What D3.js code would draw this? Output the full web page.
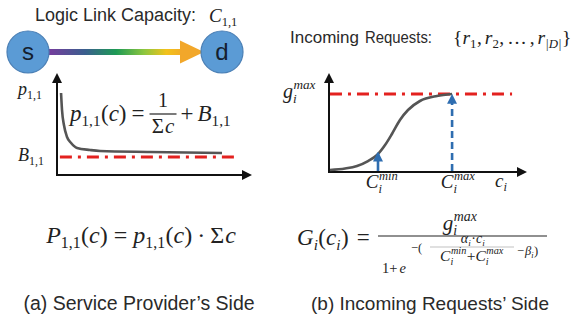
<!DOCTYPE html>
<html><head><meta charset="utf-8">
<script src="https://cdn.jsdelivr.net/npm/d3@7"></script>
<style>body{margin:0;background:#fff} svg{display:block}</style>
</head><body><svg id="c" width="571" height="325"></svg>
<script>
// ---------- data ----------
const leftCapX = [0.21, 0.26, 0.36, 0.52, 0.73, 1.04, 1.71, 2.23, 4.82, 8.55];
const leftCapY = [8.2, 6.5, 5.0, 3.8, 3.2, 2.7, 2.5, 2.4, 2.3, 2.2];
const baseB = 1.8;
const baseLineX = [0.15, 9.3];
const sigX = [0.05, 0.82, 1.43, 1.99, 2.45, 2.86, 3.21, 3.62, 4.03, 4.64, 5.51, 6.28];
const sigY = [0.21, 0.36, 0.62, 1.13, 1.75, 2.78, 3.92, 5.36, 6.39, 7.32, 7.84, 8.04];
const gMax = 8.04;
const gLineX = [0.05, 9.34];
const markX = [2.5, 6.28];      // C_i^min, C_i^max
const markY = [1.9, 7.85];
const gradColors = ["#7a3a9e", "#3a5f8e", "#1d9a55", "#8cc63f", "#f2c21b", "#f2a72a"];
const gradOffsets = [0, 0.28, 0.5, 0.7, 0.86, 1];
const captions = ["(a) Service Provider\u2019s Side", "(b) Incoming Requests\u2019 Side"];

// ---------- setup ----------
const svg = d3.select("#c");
const defs = svg.append("defs");
function marker(id, color) {
  defs.append("marker").attr("id", id).attr("viewBox", "0 0 10 10").attr("refX", 8).attr("refY", 5)
    .attr("markerWidth", 10).attr("markerHeight", 10).attr("markerUnits", "userSpaceOnUse").attr("orient", "auto")
    .append("path").attr("d", "M0,0 L10,5 L0,10 Z").attr("fill", color);
}
marker("arrK", "#111");
marker("arrB", "#2e6db0");
const lg = defs.append("linearGradient").attr("id", "grad").attr("x1", 0).attr("x2", 1).attr("y1", 0).attr("y2", 0);
gradOffsets.forEach((o, i) => lg.append("stop").attr("offset", o).attr("stop-color", gradColors[i]));

const MATH = "Liberation Serif";
function mrow(parent, x, y, items, size, align) {
  const g = parent.append("g").attr("font-family", MATH).attr("fill", "#222");
  let cx = 0;
  const add = (t, dx, dy, fs, it) => {
    const e = g.append("text").attr("x", dx).attr("y", dy).attr("font-size", fs)
      .attr("font-style", it ? "italic" : "normal").text(t);
    return e.node().getComputedTextLength();
  };
  items.forEach(o => {
    if (o.t !== undefined) cx += add(o.t, cx, 0, size, o.i);
    else if (o.p !== undefined && o.b !== undefined) {
      const ss = size * 0.66;
      const e = g.append("text").attr("font-size", ss).attr("font-style", "italic");
      const a = e.append("tspan").attr("x", cx + 0.5).attr("y", -size * 0.44).text(o.p);
      const b = e.append("tspan").attr("x", cx).attr("y", size * 0.24).text(o.b);
      cx += Math.max(a.node().getComputedTextLength() + 0.5, b.node().getComputedTextLength()) + 0.5;
    } else if (o.b !== undefined) {
      cx += add(o.b, cx, size * 0.22, size * 0.66, o.bi) + 0.5;
    }
    if (o.g) cx += o.g;
  });
  const ox = align === "middle" ? x - cx / 2 : align === "end" ? x - cx : x;
  g.attr("transform", `translate(${ox},${y})`);
  return { g, w: cx, x0: ox };
}
function sans(x, y, t, size, anchor) {
  return svg.append("text").attr("x", x).attr("y", y).attr("font-family", "Liberation Sans")
    .attr("font-size", size).attr("fill", "#2a2a2a").attr("text-anchor", anchor || "start").text(t);
}

// ---------- top-left: link ----------
sans(35, 21, "Logic Link Capacity:", 18);
mrow(svg, 209, 22, [{ t: "C", i: 1 }, { b: "1,1" }], 19);

const linkY = 52;
svg.append("rect").attr("x", 46).attr("y", linkY - 3).attr("width", 140).attr("height", 6).attr("fill", "url(#grad)");
svg.append("path").attr("d", `M180,${linkY - 11.5} L204,${linkY} L180,${linkY + 11.5} Z`).attr("fill", "#f2a72a");
[[28, "s"], [222, "d"]].forEach(([cx, t]) => {
  svg.append("circle").attr("cx", cx).attr("cy", linkY).attr("r", 21).attr("fill", "#5b9bd5").attr("stroke", "#4a7fb5").attr("stroke-width", 1.2);
  svg.append("text").attr("x", cx).attr("y", linkY + 8).attr("text-anchor", "middle").attr("font-family", "Liberation Sans")
    .attr("font-size", 24).attr("fill", "#14202e").text(t);
});

// ---------- left chart ----------
const lx = d3.scaleLinear([0, 10], [57, 250]);
const ly = d3.scaleLinear([0, 10], [175, 75]);
svg.append("line").attr("x1", lx(0)).attr("y1", ly(0)).attr("x2", lx(0)).attr("y2", ly(10))
  .attr("stroke", "#111").attr("stroke-width", 2).attr("marker-end", "url(#arrK)");
svg.append("line").attr("x1", lx(0) - 1).attr("y1", ly(0)).attr("x2", lx(10)).attr("y2", ly(0))
  .attr("stroke", "#111").attr("stroke-width", 2).attr("marker-end", "url(#arrK)");
svg.append("line").attr("x1", lx(baseLineX[0])).attr("x2", lx(baseLineX[1])).attr("y1", ly(baseB)).attr("y2", ly(baseB))
  .attr("stroke", "#e3211f").attr("stroke-width", 3).attr("stroke-dasharray", "12,6,3,6");
const leftPts = leftCapX.map((v, i) => [v, leftCapY[i]]);
svg.append("path").attr("d", d3.line().x(d => lx(d[0])).y(d => ly(d[1])).curve(d3.curveMonotoneX)(leftPts))
  .attr("fill", "none").attr("stroke", "#555").attr("stroke-width", 2.6);
mrow(svg, 18, 95, [{ t: "p", i: 1 }, { b: "1,1" }], 18);
mrow(svg, 18, 161, [{ t: "B", i: 1 }, { b: "1,1" }], 18);

// formula inside chart
const f1 = mrow(svg, 70, 121, [{ t: "p", i: 1 }, { b: "1,1" }, { t: "(" }, { t: "c", i: 1 }, { t: ")", g: 5 }, { t: "=" }], 23);
const fx0 = f1.x0 + f1.w + 5, fw = 27;
svg.append("line").attr("x1", fx0).attr("x2", fx0 + fw).attr("y1", 114).attr("y2", 114).attr("stroke", "#222").attr("stroke-width", 1.2);
mrow(svg, fx0 + fw / 2, 107, [{ t: "1" }], 20, "middle");
mrow(svg, fx0 + fw / 2, 133, [{ t: "\u03A3", g: 1 }, { t: "c", i: 1 }], 21, "middle");
mrow(svg, fx0 + fw + 4, 121, [{ t: "+", g: 4 }, { t: "B", i: 1 }, { b: "1,1" }], 23);

// bottom-left formula
mrow(svg, 141, 243, [{ t: "P", i: 1 }, { b: "1,1" }, { t: "(" }, { t: "c", i: 1 }, { t: ")", g: 6 }, { t: "=", g: 6 },
  { t: "p", i: 1 }, { b: "1,1" }, { t: "(" }, { t: "c", i: 1 }, { t: ")", g: 5 }, { t: "\u00B7", g: 5 }, { t: "\u03A3", g: 1 }, { t: "c", i: 1 }], 24, "middle");
sans(139, 310, captions[0], 19.5, "middle");

// ---------- right side ----------
const inc = svg.append("text").attr("x", 290).attr("y", 43).attr("font-family", "Liberation Sans").attr("fill", "#2a2a2a");
inc.append("tspan").attr("font-size", 17).text("Incoming");
inc.append("tspan").attr("x", 365).attr("font-size", 16).attr("textLength", 67).attr("lengthAdjust", "spacingAndGlyphs").text("Requests:");
mrow(svg, 453, 44, [{ t: "{" }, { t: "r", i: 1 }, { b: "1" }, { t: ",", g: 3 }, { t: "r", i: 1 }, { b: "2" }, { t: ",", g: 3 },
  { t: "\u2026", g: 3 }, { t: ",", g: 3 }, { t: "r", i: 1 }, { b: "|D|", bi: 1 }, { t: "}" }], 19.5);

const rx = d3.scaleLinear([0, 10], [329, 525]);
const ry = d3.scaleLinear([0, 10], [172, 75]);
svg.append("line").attr("x1", rx(0)).attr("y1", ry(0)).attr("x2", rx(0)).attr("y2", ry(10))
  .attr("stroke", "#111").attr("stroke-width", 2).attr("marker-end", "url(#arrK)");
svg.append("line").attr("x1", rx(0) - 1).attr("y1", ry(0)).attr("x2", rx(10)).attr("y2", ry(0))
  .attr("stroke", "#111").attr("stroke-width", 2).attr("marker-end", "url(#arrK)");
svg.append("line").attr("x1", rx(gLineX[0])).attr("x2", rx(gLineX[1])).attr("y1", ry(gMax)).attr("y2", ry(gMax))
  .attr("stroke", "#e3211f").attr("stroke-width", 3).attr("stroke-dasharray", "12,6,3,6");
const sigPts = sigX.map((v, i) => [v, sigY[i]]);
svg.append("path").attr("d", d3.line().x(d => rx(d[0])).y(d => ry(d[1])).curve(d3.curveMonotoneX)(sigPts))
  .attr("fill", "none").attr("stroke", "#555").attr("stroke-width", 2.6);
markX.forEach((v, i) => {
  svg.append("line").attr("x1", rx(v)).attr("x2", rx(v)).attr("y1", ry(0) - 1).attr("y2", ry(markY[i]))
    .attr("stroke", "#2e6db0").attr("stroke-width", 2.6).attr("stroke-dasharray", i ? "7,4" : "none")
    .attr("marker-end", "url(#arrB)");
});
mrow(svg, 283, 98, [{ t: "g", i: 1 }, { p: "max", b: "i" }], 20);
mrow(svg, rx(markX[0]) + 4, 188, [{ t: "C", i: 1 }, { p: "min", b: "i" }], 19, "middle");
mrow(svg, rx(markX[1]) + 6, 188, [{ t: "C", i: 1 }, { p: "max", b: "i" }], 19, "middle");
mrow(svg, 495, 187, [{ t: "c", i: 1 }, { b: "i", bi: 1 }], 19);

// bottom-right formula
mrow(svg, 297, 245, [{ t: "G", i: 1 }, { b: "i", bi: 1 }, { t: "(" }, { t: "c", i: 1 }, { b: "i", bi: 1 }, { t: ")", g: 8 }, { t: "=" }], 23);
svg.append("line").attr("x1", 378).attr("x2", 547).attr("y1", 236).attr("y2", 236).attr("stroke", "#222").attr("stroke-width", 1.2);
mrow(svg, 460, 230, [{ t: "g", i: 1 }, { p: "max", b: "i" }], 21, "middle");
mrow(svg, 382, 273, [{ t: "1+", g: 2 }, { t: "e", i: 1 }], 14.5);
mrow(svg, 411, 252, [{ t: "\u2212(" }], 12.5);
mrow(svg, 473, 243, [{ t: "\u03B1", i: 1 }, { b: "i", bi: 1 }, { t: "\u00B7" }, { t: "c", i: 1 }, { b: "i", bi: 1 }], 14, "middle");
svg.append("line").attr("x1", 430).attr("x2", 514).attr("y1", 247).attr("y2", 247).attr("stroke", "#999").attr("stroke-width", 0.6);
mrow(svg, 472, 261, [{ t: "C", i: 1 }, { p: "min", b: "i" }, { t: "+" }, { t: "C", i: 1 }, { p: "max", b: "i" }], 15.5, "middle");
mrow(svg, 517, 255, [{ t: "\u2212", g: 1 }, { t: "\u03B2", i: 1 }, { b: "i", bi: 1 }, { t: ")" }], 12.5);
sans(430, 310, captions[1], 19, "middle");
</script></body></html>
